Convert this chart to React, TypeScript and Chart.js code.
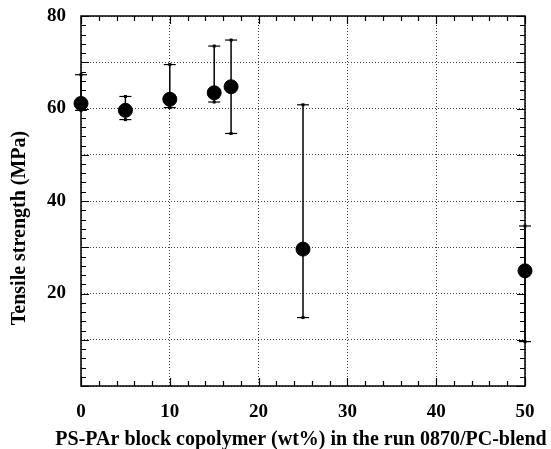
import React, { useEffect, useRef } from "react";
import { Chart, registerables } from "chart.js";

Chart.register(...registerables);

const copolymerWt = [0, 5, 10, 15, 16.9, 25, 50];
const tensileMean = [61.1, 59.6, 62.0, 63.4, 64.7, 29.6, 24.9];
const tensileHigh = [67.3, 62.6, 69.5, 73.5, 74.8, 60.8, 34.6];
const tensileLow = [59.6, 57.6, 60.2, 61.4, 54.6, 14.8, 9.6];
const yTickLabels = [20, 40, 60, 80];
const xTitle = "PS-PAr block copolymer (wt%) in the run 0870/PC-blend";
const yTitle = "Tensile strength (MPa)";

const FONT = '"Liberation Serif", "Times New Roman", serif';

const decorPlugin = {
  id: "decor",
  beforeDatasetsDraw(chart: any) {
    const { ctx, chartArea: a, scales } = chart;
    const xs = scales.x;
    const ys = scales.y;
    ctx.save();
    ctx.strokeStyle = "#000";
    ctx.lineWidth = 1.5;
    ctx.strokeRect(a.left, a.top, a.right - a.left, a.bottom - a.top);
    ctx.lineWidth = 1.2;
    for (let v = 0; v <= 50; v += 2) {
      const px = Math.round(xs.getPixelForValue(v)) + 0.5;
      const len = v % 10 === 0 ? 8 : 5;
      ctx.beginPath();
      ctx.moveTo(px, a.bottom);
      ctx.lineTo(px, a.bottom - len);
      ctx.moveTo(px, a.top);
      ctx.lineTo(px, a.top + len);
      ctx.stroke();
    }
    for (let v = 0; v <= 80; v += 2) {
      const py = Math.round(ys.getPixelForValue(v)) + 0.5;
      const len = v % 10 === 0 ? 8 : 5;
      ctx.beginPath();
      ctx.moveTo(a.left, py);
      ctx.lineTo(a.left + len, py);
      ctx.moveTo(a.right, py);
      ctx.lineTo(a.right - len, py);
      ctx.stroke();
    }
    // error bars
    ctx.fillStyle = "#000";
    ctx.lineWidth = 1.5;
    for (let i = 0; i < copolymerWt.length; i++) {
      const px = xs.getPixelForValue(copolymerWt[i]);
      const ph = ys.getPixelForValue(tensileHigh[i]);
      const pl = ys.getPixelForValue(tensileLow[i]);
      ctx.beginPath();
      ctx.moveTo(px, ph);
      ctx.lineTo(px, pl);
      ctx.stroke();
      for (const py of [ph, pl]) {
        ctx.beginPath();
        ctx.lineWidth = 1.2;
        ctx.moveTo(px - 6, py);
        ctx.lineTo(px + 6, py);
        ctx.stroke();
        ctx.fillRect(px - 1.5, py - 1.5, 3, 3);
      }
      ctx.lineWidth = 1.5;
    }
    // axis titles
    ctx.fillStyle = "#000";
    ctx.font = `bold 20px ${FONT}`;
    ctx.textAlign = "center";
    ctx.textBaseline = "middle";
    ctx.fillText(xTitle, 301, 440);
    ctx.save();
    ctx.translate(20, 228);
    ctx.rotate(-Math.PI / 2);
    ctx.fillText(yTitle, 0, 0);
    ctx.restore();
    ctx.restore();
  },
};

export default function App() {
  const ref = useRef<HTMLCanvasElement | null>(null);
  useEffect(() => {
    if (!ref.current) return;
    const chart = new Chart(ref.current, {
      type: "scatter",
      data: {
        datasets: [
          {
            data: copolymerWt.map((x, i) => ({ x, y: tensileMean[i] })),
            backgroundColor: "#000",
            borderColor: "#000",
            pointRadius: 7,
            pointHoverRadius: 7,
            showLine: false,
            clip: false as any,
          },
        ],
      },
      options: {
        animation: false,
        responsive: false,
        devicePixelRatio: 1,
        layout: { padding: { top: 16, right: 26, left: 0, bottom: 0 } },
        plugins: { legend: { display: false }, tooltip: { enabled: false } },
        scales: {
          x: {
            type: "linear",
            min: 0,
            max: 50,
            afterFit: (s: any) => {
              s.height = 63;
              s.paddingLeft = 0;
              s.paddingRight = 0;
            },
            ticks: {
              stepSize: 10,
              padding: 15,
              color: "#000",
              font: { family: FONT, size: 19, weight: "bold" },
            },
            grid: { color: "rgba(0,0,0,0.75)", lineWidth: 1, drawTicks: false },
            border: { display: false, dash: [1, 2] },
          },
          y: {
            type: "linear",
            min: 0,
            max: 80,
            afterFit: (s: any) => {
              s.width = 81;
              s.paddingTop = 0;
              s.paddingBottom = 0;
            },
            ticks: {
              stepSize: 10,
              padding: 15,
              color: "#000",
              font: { family: FONT, size: 19, weight: "bold" },
              callback: (v: any) => (yTickLabels.includes(Number(v)) ? String(v) : ""),
            },
            grid: { color: "rgba(0,0,0,0.75)", lineWidth: 1, drawTicks: false },
            border: { display: false, dash: [1, 2] },
          },
        },
      },
      plugins: [decorPlugin],
    });
    return () => chart.destroy();
  }, []);
  return (
    <div style={{ position: "absolute", left: 0, top: 0, width: 551, height: 449, background: "#fff" }}>
      <canvas ref={ref} width={551} height={449} style={{ display: "block" }} />
    </div>
  );
}
